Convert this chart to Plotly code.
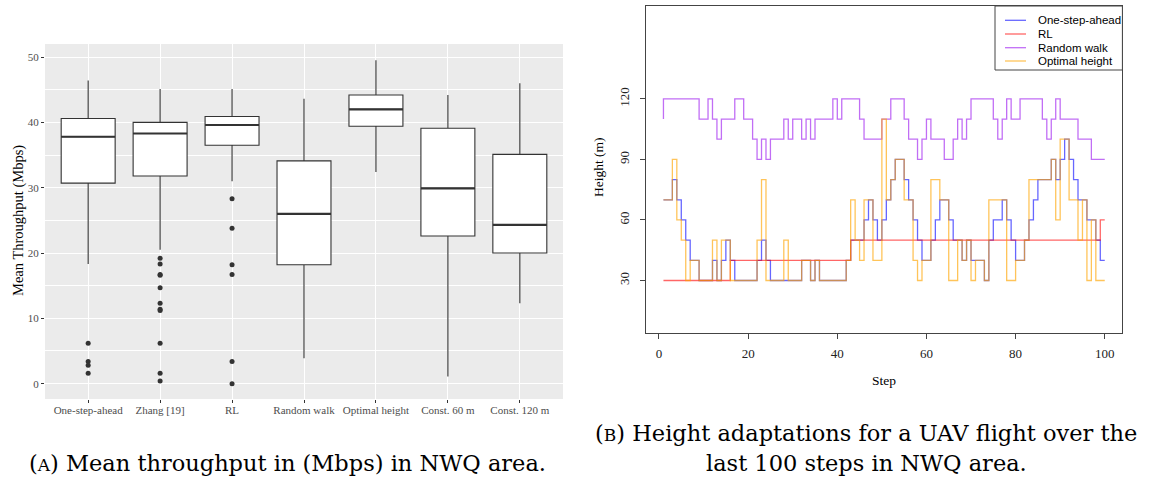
import plotly.graph_objects as go

W, H = 1153, 480

# ---------------- Left chart data (box plot, Mbps) ----------------
methods = ["One-step-ahead", "Zhang [19]", "RL", "Random walk",
           "Optimal height", "Const. 60 m", "Const. 120 m"]
q1 = [30.7, 31.8, 36.5, 18.2, 39.4, 22.6, 20.0]
median = [37.8, 38.3, 39.6, 26.0, 42.0, 29.9, 24.3]
q3 = [40.6, 40.0, 40.9, 34.1, 44.2, 39.1, 35.1]
lower_whisker = [18.3, 20.5, 31.0, 3.9, 32.4, 1.1, 12.3]
upper_whisker = [46.4, 45.1, 45.1, 43.6, 49.5, 44.2, 46.0]
outliers_one_step = [6.2, 3.4, 2.8, 1.6]
outliers_zhang = [19.2, 18.3, 16.7, 16.6, 14.7, 12.3, 11.4, 11.2, 6.2, 1.6, 0.4]
outliers_rl = [28.3, 23.8, 18.2, 16.7, 3.4, 0.0]
y_ticks_left = [0, 10, 20, 30, 40, 50]

# ---------------- Right chart data (height per step, m) ----------------
steps = list(range(1, 101))
one_step_ahead = [70, 70, 70, 80, 70, 60, 50, 40, 40, 30,
                  30, 30, 40, 30, 40, 50, 40, 30, 30, 30,
                  30, 30, 40, 50, 40, 30, 30, 30, 30, 30,
                  30, 30, 40, 40, 30, 40, 30, 30, 30, 30,
                  30, 30, 40, 50, 50, 50, 60, 70, 60, 50,
                  60, 70, 80, 90, 90, 80, 70, 60, 50, 40,
                  40, 50, 60, 70, 70, 60, 50, 50, 40, 50,
                  40, 40, 40, 30, 50, 60, 60, 70, 60, 50,
                  40, 40, 50, 60, 70, 80, 80, 80, 90, 80,
                  90, 100, 90, 80, 70, 70, 60, 60, 50, 40]
rl = [30, 30, 30, 30, 30, 30, 30, 30, 30, 30,
      30, 30, 30, 30, 30, 30, 40, 40, 40, 40,
      40, 40, 40, 40, 40, 40, 40, 40, 40, 40,
      40, 40, 40, 40, 40, 40, 40, 40, 40, 40,
      40, 40, 40, 50, 50, 50, 50, 50, 50, 50,
      50, 50, 50, 50, 50, 50, 50, 50, 50, 50,
      50, 50, 50, 50, 50, 50, 50, 50, 50, 50,
      50, 50, 50, 50, 50, 50, 50, 50, 50, 50,
      50, 50, 50, 50, 50, 50, 50, 50, 50, 50,
      50, 50, 50, 50, 50, 50, 50, 50, 50, 60]
random_walk = [110, 120, 120, 120, 120, 120, 120, 120, 120, 110,
               110, 120, 110, 100, 110, 110, 110, 120, 120, 110,
               110, 100, 90, 100, 90, 100, 100, 100, 110, 100,
               110, 110, 100, 110, 100, 110, 110, 110, 110, 120,
               110, 120, 120, 120, 120, 110, 100, 100, 100, 100,
               110, 110, 120, 120, 120, 110, 100, 100, 90, 100,
               110, 100, 100, 100, 90, 90, 100, 110, 100, 110,
               120, 120, 120, 120, 120, 110, 100, 110, 120, 110,
               110, 120, 120, 120, 120, 120, 110, 100, 110, 120,
               110, 110, 110, 110, 100, 100, 100, 90, 90, 90]
optimal_height = [70, 70, 70, 90, 60, 50, 30, 40, 40, 30,
                  30, 30, 50, 30, 50, 50, 30, 30, 30, 30,
                  30, 30, 50, 80, 30, 30, 30, 30, 50, 30,
                  30, 30, 40, 40, 30, 40, 30, 30, 30, 30,
                  30, 30, 40, 70, 50, 40, 70, 70, 40, 40,
                  110, 70, 80, 90, 90, 70, 70, 40, 30, 40,
                  40, 80, 80, 70, 70, 30, 30, 50, 40, 50,
                  30, 40, 40, 30, 70, 70, 70, 70, 30, 30,
                  40, 40, 50, 80, 80, 80, 80, 80, 90, 60,
                  100, 100, 70, 70, 50, 70, 30, 60, 30, 30]
x_ticks_right = [0, 20, 40, 60, 80, 100]
y_ticks_right = [30, 60, 90, 120]

series_names = ["One-step-ahead", "RL", "Random walk", "Optimal height"]
series_values = [one_step_ahead, rl, random_walk, optimal_height]
series_colors = ["rgba(0,0,255,0.6)", "rgba(255,0,0,0.6)",
                 "rgba(160,32,240,0.65)", "rgba(255,165,0,0.65)"]


def px(x):
    return x / W


def py(y):
    return 1 - y / H


fig = go.Figure()

# ---- boxes ----
positions = list(range(1, len(methods) + 1))
fig.add_trace(go.Box(
    x=positions, q1=q1, median=median, q3=q3,
    lowerfence=lower_whisker, upperfence=upper_whisker,
    width=0.75, whiskerwidth=0, boxpoints=False,
    fillcolor="white", line=dict(color="#333333", width=1.1),
    xaxis="x", yaxis="y", showlegend=False, hoverinfo="skip"))

# thicker median bars
mx, my = [], []
for p, m in zip(positions, median):
    mx += [p - 0.375, p + 0.375, None]
    my += [m, m, None]
fig.add_trace(go.Scatter(x=mx, y=my, mode="lines",
                         line=dict(color="#333333", width=2.2),
                         xaxis="x", yaxis="y", showlegend=False, hoverinfo="skip"))

# outliers
ox, oy = [], []
for p, vals in zip([1, 2, 3], [outliers_one_step, outliers_zhang, outliers_rl]):
    ox += [p] * len(vals)
    oy += vals
fig.add_trace(go.Scatter(x=ox, y=oy, mode="markers",
                         marker=dict(color="#333333", size=5),
                         xaxis="x", yaxis="y", showlegend=False, hoverinfo="skip"))

# ---- step lines ----
for name, vals, col in zip(series_names, series_values, series_colors):
    fig.add_trace(go.Scatter(x=steps, y=vals, mode="lines", name=name,
                             line=dict(color=col, width=1.3, shape="vh"),
                             xaxis="x2", yaxis="y2", showlegend=False,
                             hoverinfo="skip"))

serif = "Liberation Serif"

fig.update_layout(
    width=W, height=H, margin=dict(l=0, r=0, t=0, b=0),
    paper_bgcolor="white", plot_bgcolor="white", showlegend=False,
    xaxis=dict(domain=[px(45), px(563)], range=[0.4, 7.6], anchor="y",
               tickmode="array", tickvals=positions, ticktext=methods,
               tickfont=dict(family=serif, size=11, color="#4D4D4D"),
               ticks="outside", ticklen=3, tickcolor="#333333",
               ticklabelstandoff=-2,
               showgrid=True, gridcolor="white", gridwidth=1.1,
               zeroline=False, showline=False),
    yaxis=dict(domain=[py(399), py(44)], range=[-2.35, 52.0], anchor="x",
               tickmode="array", tickvals=y_ticks_left,
               tickfont=dict(family=serif, size=11, color="#4D4D4D"),
               ticks="outside", ticklen=3, tickcolor="#333333",
               showgrid=True, gridcolor="white", gridwidth=1.1,
               minor=dict(tickvals=[5, 15, 25, 35, 45], showgrid=True,
                          gridcolor="white", gridwidth=0.5, ticks=""),
               zeroline=False, showline=False),
    xaxis2=dict(domain=[px(645.8), px(1122.4)], range=[-2.96, 103.96], anchor="y2",
                tickmode="array", tickvals=x_ticks_right,
                tickfont=dict(family=serif, size=13, color="#222222"),
                ticks="outside", ticklen=5, tickcolor="#444444",
                ticklabelstandoff=3,
                showline=True, mirror=True, linecolor="#444444", linewidth=1,
                showgrid=False, zeroline=False),
    yaxis2=dict(domain=[py(333), py(6)], range=[4, 166], anchor="x2",
                tickmode="array", tickvals=y_ticks_right, tickangle=-90,
                tickfont=dict(family=serif, size=13, color="#222222"),
                ticks="outside", ticklen=5, tickcolor="#444444",
                ticklabelstandoff=6,
                showline=True, mirror=True, linecolor="#444444", linewidth=1,
                showgrid=False, zeroline=False),
)

shapes = [
    dict(type="rect", xref="x domain", yref="y domain", x0=0, x1=1, y0=0, y1=1,
         fillcolor="#EBEBEB", line=dict(width=0), layer="below"),
    # legend box
    dict(type="rect", xref="paper", yref="paper", x0=px(995), x1=px(1122.4),
         y0=py(70), y1=py(6), fillcolor="white", line=dict(color="#444444", width=1)),
]
cap_font = dict(family="DejaVu Serif", size=22.5, color="black")
annotations = [
    dict(text="Mean Throughput (Mbps)", x=px(18), y=py(221), xref="paper", yref="paper",
         xanchor="center", yanchor="middle",
         textangle=-90, showarrow=False, font=dict(family=serif, size=14.5, color="black")),
    dict(text="Height (m)", x=px(598), y=py(167), xref="paper", yref="paper",
         xanchor="center", yanchor="middle",
         textangle=-90, showarrow=False, font=dict(family=serif, size=13.5, color="black")),
    dict(text="Step", x=px(884), y=py(380), xref="paper", yref="paper",
         xanchor="center", yanchor="middle",
         showarrow=False, font=dict(family=serif, size=13.5, color="black")),
    dict(text="(<span style='font-size:17px'>A</span>) Mean throughput in (Mbps) in NWQ area.",
         x=px(287), y=py(463), xref="paper", yref="paper", showarrow=False,
         xanchor="center", yanchor="middle", font=cap_font),
    dict(text="(<span style='font-size:17px'>B</span>) Height adaptations for a UAV flight over the",
         x=px(866), y=py(433), xref="paper", yref="paper", showarrow=False,
         xanchor="center", yanchor="middle", font=cap_font),
    dict(text="last 100 steps in NWQ area.",
         x=px(866), y=py(463), xref="paper", yref="paper", showarrow=False,
         xanchor="center", yanchor="middle", font=cap_font),
]
legend_rows = [20.3, 34, 47.7, 61]
for name, col, ry in zip(series_names, series_colors, legend_rows):
    shapes.append(dict(type="line", xref="paper", yref="paper",
                       x0=px(1005), x1=px(1026), y0=py(ry), y1=py(ry),
                       line=dict(color=col, width=1.3)))
    annotations.append(dict(text=name, x=px(1036), y=py(ry), xref="paper", yref="paper",
                            xanchor="left", yanchor="middle", showarrow=False,
                            font=dict(family="Liberation Sans", size=11.5, color="black")))

fig.update_layout(shapes=shapes, annotations=annotations)
fig.write_html("out.html", config={"displayModeBar": False},
               post_script="document.body.style.margin='0px';document.body.style.overflow='hidden';")
